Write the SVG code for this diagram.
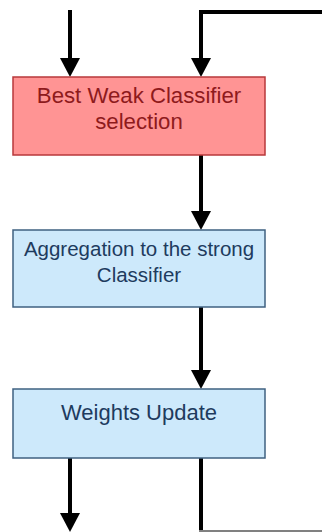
<svg xmlns="http://www.w3.org/2000/svg" width="322" height="532" viewBox="0 0 322 532">
<style>
.red{fill:#FF9494;stroke:#B8393B;stroke-width:1.5}
.blue{fill:#CDE9FB;stroke:#3F6181;stroke-width:1.5}
.tr{font-family:"Liberation Sans",Arial,sans-serif;fill:#8E1A1C;text-anchor:middle}
.tb{font-family:"Liberation Sans",Arial,sans-serif;fill:#1E3B5E;text-anchor:middle}
.c{fill:none;stroke:#000;stroke-width:4}
</style>
<defs>
<marker id="ah" markerUnits="userSpaceOnUse" markerWidth="19" markerHeight="20" viewBox="0 0 19 20" refX="13" refY="10" orient="auto">
<path d="M0,0 L19,10 L0,20 z" fill="#000"/>
</marker>
</defs>
<rect width="322" height="532" fill="#fff"/>
<g id="connectors">
<path class="c" d="M70,10 V71" marker-end="url(#ah)"/>
<path class="c" d="M324,12 H201 V71" marker-end="url(#ah)"/>
<path class="c" d="M201,155 V224" marker-end="url(#ah)"/>
<path class="c" d="M201,307 V383" marker-end="url(#ah)"/>
<path class="c" d="M70,458 V526" marker-end="url(#ah)"/>
<path class="c" d="M201,458 V533"/>
<path d="M199,531 H322" fill="none" stroke="#808080" stroke-width="2"/>
</g>
<g id="node1">
<rect class="red" x="13" y="77" width="252" height="78"/>
<text class="tr" x="139" y="103" font-size="22.2">Best Weak Classifier</text>
<text class="tr" x="139" y="128.5" font-size="22.2">selection</text>
</g>
<g id="node2">
<rect class="blue" x="13" y="230" width="252" height="77"/>
<text class="tb" x="139" y="255.5" font-size="20.5">Aggregation to the strong</text>
<text class="tb" x="139" y="281.5" font-size="20.5">Classifier</text>
</g>
<g id="node3">
<rect class="blue" x="13" y="389" width="252" height="69"/>
<text class="tb" x="139" y="420" font-size="22">Weights Update</text>
</g>
</svg>
